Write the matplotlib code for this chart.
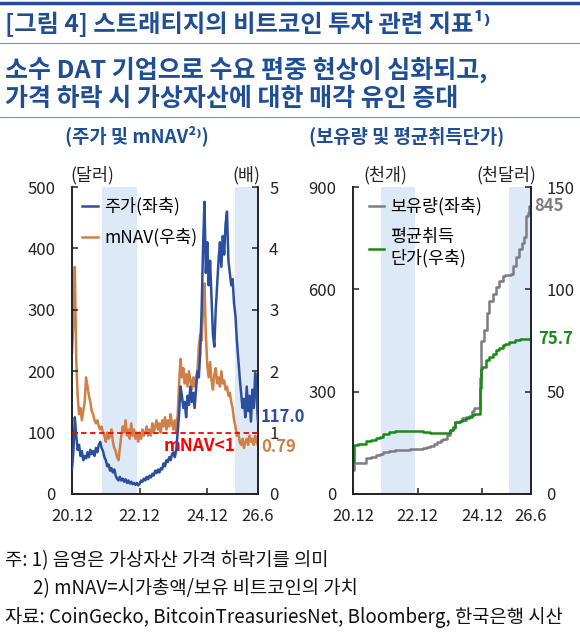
import matplotlib
matplotlib.use("Agg")
import matplotlib.pyplot as plt
import numpy as np

plt.rcParams['font.family'] = ['Noto Sans CJK KR', 'DejaVu Sans']
plt.rcParams['axes.unicode_minus'] = False

# ---- data (months since 2020.12) ----
price_m = np.arange(0, 66.5, 0.5)
price = [40, 70, 125, 95, 72, 80, 62, 70, 55, 62, 58, 68, 60, 72, 65, 70, 62, 75, 68, 80,
         85, 75, 70, 60, 55, 45, 48, 38, 42, 35, 40, 30, 25, 22, 28, 22, 25, 20, 24, 18,
         22, 17, 20, 16, 18, 15, 18, 14, 17, 22, 20, 25, 22, 28, 24, 30, 27, 33, 30, 38,
         34, 40, 35, 42, 40, 50, 45, 55, 52, 60, 55, 65, 68, 60, 72, 100, 130, 175, 160, 140,
         150, 125, 160, 145, 175, 150, 165, 140, 170, 200, 190, 230, 300, 400, 476, 360, 410, 340, 380, 320,
         260, 240, 300, 340, 380, 410, 370, 420, 390, 440, 460, 380, 360, 340, 350, 310, 290, 250, 220, 190,
         165, 140, 155, 125, 175, 135, 160, 118, 170, 140, 197, 160, 117.0]
mnav = [2.3, 2.8, 3.7, 2.2, 1.6, 1.3, 1.4, 1.2, 1.35, 1.5, 1.9, 1.75, 1.6, 1.5, 1.35, 1.3, 1.2, 1.15, 1.2, 1.1,
        1.05, 1.1, 1.0, 0.95, 0.85, 1.0, 0.9, 0.95, 1.05, 0.85, 0.75, 0.7, 0.6, 0.55, 0.75, 0.95, 1.1, 1.0, 1.2, 0.95,
        1.05, 0.9, 1.15, 0.95, 1.05, 0.9, 1.0, 0.85, 1.0, 0.9, 1.05, 0.95, 1.0, 1.1, 0.95, 1.05, 0.95, 1.15, 1.0, 1.1,
        1.2, 1.05, 1.15, 1.0, 1.2, 1.1, 1.25, 1.05, 1.2, 1.1, 1.3, 1.15, 1.05, 1.2, 1.0, 1.3, 1.8, 2.2, 1.9, 2.05,
        1.8, 1.95, 1.75, 2.0, 1.85, 1.7, 1.9, 1.75, 1.9, 2.0, 2.4, 2.6, 2.5, 3.0, 3.43, 2.6, 2.1, 1.9, 2.15, 1.85,
        1.7, 1.95, 2.05, 1.8, 1.9, 1.75, 2.0, 1.8, 1.85, 1.7, 1.75, 1.6, 1.65, 1.5, 1.4, 1.2, 1.1, 0.95, 1.0, 0.85,
        0.8, 0.9, 0.75, 0.85, 0.9, 0.8, 0.95, 0.85, 0.9, 0.8, 0.95, 0.85, 0.79]

hold_m = [0, 0.5, 2, 3, 5, 6.5, 8.7, 10, 11, 12.5, 13.5, 15.5, 17, 21, 23.5, 26, 27.5, 28.5, 30, 31,
          32.5, 33.5, 35, 36, 37, 38, 39.5, 40.5, 42, 43, 44, 45, 46.5, 47, 47.5, 48.5, 49.5, 50.6, 51.8, 53,
          54.2, 55.5, 56.5, 58.5, 59.5, 60.5, 61.6, 62.5, 63.5, 64.3, 64.8, 65.3, 65.7]
holdings = [70, 90, 91, 92, 105, 108, 114, 118, 122, 124, 127, 129, 130, 131, 132, 135, 138, 140, 146, 153,
            157, 160, 172, 187, 193, 211, 215, 222, 226, 228, 244, 252, 252, 340, 450, 480, 530, 567, 585, 606,
            625, 640, 642, 645, 668, 695, 718, 735, 752, 815, 825, 845, 845]

cost_m = [0, 0.5, 2, 5, 6.5, 8.7, 10, 11, 13.5, 15.5, 17, 21, 24, 26, 28.5, 32, 35, 36, 37, 38,
          39.5, 40.5, 42, 43, 44, 45, 46.5, 47, 47.3, 47.6, 48, 49.3, 50.6, 51.8, 53, 54.2, 55.5, 56.5, 58, 60,
          62, 64, 65.7]
avg_cost = [15.5, 24, 24.5, 26, 26.5, 27.3, 28, 29.5, 30.3, 30.6, 30.8, 30.8, 30.6, 30.2, 29.6, 29.6, 29.8, 31.3, 32.5, 35,
            35.8, 36.4, 37, 37.6, 38.6, 39.2, 39.3, 52, 58, 61, 62, 65.5, 67, 68.6, 70.4, 71.5, 72.8, 73.3, 74.2, 75.2,
            75.9, 75.8, 75.7]

shade_periods = [(10.5, 23), (58, 66)]
xtick_pos = [0, 24, 48, 66]
xtick_labels = ['20.12', '22.12', '24.12', '26.6']

# ---- colours ----
navy = '#1F4E96'
c_price = '#2B4F9E'
c_mnav = '#CF7F48'
c_hold = '#7D7C84'
c_cost = '#178A17'
c_shade = '#DDE9F6'

fig = plt.figure(figsize=(5.8, 6.36), dpi=100)


def px(x, y):
    return x / 580, 1 - y / 636


def style_axes(ax, ax2, shade_ax, ypad):
    for a in (ax, ax2):
        a.spines['top'].set_visible(False)
        for s in ('left', 'right', 'bottom'):
            a.spines[s].set_color('#222222')
            a.spines[s].set_linewidth(1.2)
        a.tick_params(direction='in', length=4, width=1.1, labelsize=12, colors='#222222')
    ax.tick_params(axis='y', pad=ypad[0])
    ax2.tick_params(axis='y', pad=ypad[1])
    ax.tick_params(axis='x', pad=10)
    ax.set_xlim(0, 66)
    ax.set_xticks(xtick_pos)
    ax.set_xticklabels(xtick_labels)
    for a, b in shade_periods:
        shade_ax.axvspan(a, b, color=c_shade, lw=0, zorder=0)


# ---- left panel ----
axL = fig.add_axes([72 / 580, 1 - 494 / 636, 186 / 580, 307 / 636])
axL2 = axL.twinx()
axL.set_zorder(axL2.get_zorder() + 1)
axL.patch.set_visible(False)
style_axes(axL, axL2, axL2, (12, 8))
axL.set_ylim(0, 500)
axL.set_yticks(range(0, 501, 100))
axL2.set_ylim(0, 5)
axL2.set_yticks(range(0, 6))

ln_p, = axL.plot(price_m, price, color=c_price, lw=1.8, label='주가(좌축)', zorder=3)
ln_n, = axL2.plot(price_m, mnav, color=c_mnav, lw=1.8, label='mNAV(우축)', zorder=2)
axL.axhline(100, color='red', lw=1.3, ls=(0, (3, 2)), zorder=4)
axL2.text(58, 0.78, 'mNAV<1', color='red', fontsize=12.5, fontweight='bold', ha='right', va='center')
axL.annotate(f'{price[-1]:.1f}', xy=(price_m[-1], price[-1]), xytext=(2, 4), textcoords='offset points',
             color=c_price, fontsize=12, fontweight='bold', va='center', annotation_clip=False, zorder=6)
axL2.annotate(f'{mnav[-1]:.2f}', xy=(price_m[-1], mnav[-1]), xytext=(2, -1), textcoords='offset points',
              color=c_mnav, fontsize=12, fontweight='bold', va='center', annotation_clip=False)
axL.legend(handles=[ln_p, ln_n], loc='upper left', frameon=False, fontsize=12.5, handlelength=0.9,
           handletextpad=0.35, labelspacing=0.7, borderaxespad=0.2, bbox_to_anchor=(0.0, 1.0))

# ---- right panel ----
axR = fig.add_axes([353 / 580, 1 - 494 / 636, 178 / 580, 307 / 636])
axR2 = axR.twinx()
style_axes(axR, axR2, axR, (12, 11))
axR.set_ylim(0, 900)
axR.set_yticks([0, 300, 600, 900])
axR2.set_ylim(0, 150)
axR2.set_yticks([0, 50, 100, 150])

ln_h, = axR.plot(hold_m, holdings, color=c_hold, lw=1.8, drawstyle='steps-post', label='보유량(좌축)')
ln_c, = axR2.plot(cost_m, avg_cost, color=c_cost, lw=1.8, drawstyle='steps-post', label='평균취득\n단가(우축)')
axR.annotate(f'{holdings[-1]}', xy=(hold_m[-1], holdings[-1]), xytext=(3, 0), textcoords='offset points',
             color=c_hold, fontsize=12, fontweight='bold', va='center', annotation_clip=False)
axR2.annotate(f'{avg_cost[-1]:.1f}', xy=(cost_m[-1], avg_cost[-1]), xytext=(6, 0), textcoords='offset points',
              color=c_cost, fontsize=12, fontweight='bold', va='center', annotation_clip=False)
axR.legend(handles=[ln_h, ln_c], loc='upper left', frameon=False, fontsize=12.5, handlelength=0.9,
           handletextpad=0.35, labelspacing=0.7, borderaxespad=0.2, bbox_to_anchor=(0.03, 1.0))

# ---- unit labels ----
for x, s in [(92, '(달러)'), (246, '(배)'), (385, '(천개)'), (506, '(천달러)')]:
    fig.text(*px(x, 175), s, fontsize=12.5, color='#222222', ha='center', va='center')

# ---- header ----
fig.add_artist(plt.Line2D([0, 1], [1 - 3 / 636] * 2, color=navy, lw=2.5))
fig.add_artist(plt.Line2D([0, 1], [1 - 43 / 636] * 2, color='#8090B0', lw=0.8))
fig.add_artist(plt.Line2D([0, 1], [1 - 117 / 636] * 2, color='#8090B0', lw=0.8))
fig.text(*px(5, 23), '[그림 4] 스트래티지의 비트코인 투자 관련 지표¹⁾', fontsize=17.5, fontweight='bold',
         color=navy, va='center')
fig.text(*px(5, 70), '소수 DAT 기업으로 수요 편중 현상이 심화되고,', fontsize=18, fontweight='bold',
         color=navy, va='center')
fig.text(*px(5, 99), '가격 하락 시 가상자산에 대한 매각 유인 증대', fontsize=18, fontweight='bold',
         color=navy, va='center')
fig.text(*px(137, 136), '(주가 및 mNAV²⁾)', fontsize=13.5, fontweight='bold', color=navy, ha='center', va='center')
fig.text(*px(407, 136), '(보유량 및 평균취득단가)', fontsize=13.5, fontweight='bold', color=navy,
         ha='center', va='center')

# ---- footnotes ----
fig.text(*px(5, 561), '주: 1) 음영은 가상자산 가격 하락기를 의미', fontsize=13.5, color='#111111', va='center')
fig.text(*px(33, 589), '2) mNAV=시가총액/보유 비트코인의 가치', fontsize=13.5, color='#111111', va='center')
fig.text(*px(5, 618), '자료: CoinGecko, BitcoinTreasuriesNet, Bloomberg, 한국은행 시산', fontsize=13.5,
         color='#111111', va='center')

fig.savefig('out.png', dpi=100)
